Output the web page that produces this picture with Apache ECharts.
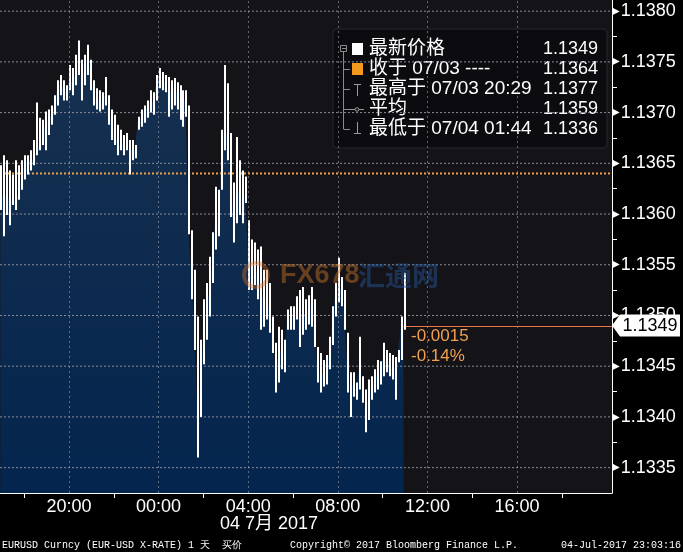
<!DOCTYPE html>
<html>
<head>
<meta charset="utf-8">
<script src="https://cdn.jsdelivr.net/npm/echarts@6/dist/echarts.min.js"></script>
<style>html,body{margin:0;padding:0;background:#000;}#c{width:683px;height:552px;}</style>
</head>
<body>
<div id="c"></div>
<script>
// ---- data (EURUSD, 8-minute bars starting 07/03 16:56) ----
const barStartHour = 16 + 56 / 60;
const barStepMinutes = 8;
const highs = [1.13648,1.13658,1.13653,1.13643,1.13639,1.13653,1.13648,1.13653,1.13658,1.13658,
1.13663,1.13673,1.13710,1.13695,1.13693,1.13701,1.13703,1.13707,1.13717,1.13732,
1.13737,1.13732,1.13727,1.13747,1.13744,1.13757,1.13771,1.13752,1.13757,1.13767,
1.13752,1.13732,1.13724,1.13722,1.13720,1.13735,1.13717,1.13703,1.13698,1.13688,
1.13683,1.13678,1.13680,1.13673,1.13673,1.13668,1.13696,1.13703,1.13707,1.13712,
1.13722,1.13720,1.13737,1.13744,1.13740,1.13737,1.13735,1.13732,1.13734,1.13730,
1.13727,1.13722,1.13722,1.13707,1.13584,1.13545,1.13499,1.13476,1.13516,1.13532,
1.13558,1.13582,1.13627,1.13624,1.13683,1.13747,1.13729,1.13680,1.13631,1.13676,
1.13653,1.13643,1.13637,1.13594,1.13575,1.13572,1.13565,1.13568,1.13545,1.13545,
1.13532,1.13499,1.13473,1.13489,1.13486,1.13476,1.13506,1.13509,1.13509,1.13519,
1.13525,1.13528,1.13516,1.13520,1.13528,1.13516,1.13469,1.13463,1.13456,1.13461,
1.13479,1.13509,1.13532,1.13557,1.13538,1.13525,1.13483,1.13444,1.13444,1.13434,
1.13479,1.13440,1.13427,1.13437,1.13440,1.13447,1.13456,1.13455,1.13473,1.13466,
1.13463,1.13461,1.13459,1.13466,1.13499,1.13542];
const lows = [1.13604,1.13578,1.13599,1.13589,1.13609,1.13604,1.13614,1.13624,1.13634,1.13639,
1.13643,1.13648,1.13658,1.13663,1.13668,1.13663,1.13678,1.13688,1.13698,1.13707,
1.13717,1.13712,1.13712,1.13722,1.13717,1.13727,1.13737,1.13712,1.13727,1.13737,
1.13722,1.13707,1.13703,1.13701,1.13703,1.13707,1.13688,1.13673,1.13668,1.13658,
1.13663,1.13658,1.13663,1.13639,1.13653,1.13655,1.13683,1.13686,1.13690,1.13695,
1.13700,1.13698,1.13712,1.13724,1.13722,1.13720,1.13696,1.13703,1.13707,1.13703,
1.13693,1.13686,1.13696,1.13580,1.13516,1.13466,1.13360,1.13400,1.13452,1.13476,
1.13499,1.13532,1.13565,1.13578,1.13624,1.13663,1.13653,1.13597,1.13572,1.13591,
1.13599,1.13591,1.13611,1.13525,1.13525,1.13530,1.13516,1.13486,1.13489,1.13496,
1.13483,1.13463,1.13424,1.13434,1.13447,1.13444,1.13486,1.13486,1.13486,1.13496,
1.13469,1.13481,1.13486,1.13491,1.13489,1.13469,1.13434,1.13424,1.13430,1.13432,
1.13447,1.13471,1.13499,1.13513,1.13509,1.13486,1.13424,1.13400,1.13420,1.13417,
1.13427,1.13414,1.13385,1.13397,1.13417,1.13424,1.13427,1.13432,1.13440,1.13444,
1.13440,1.13437,1.13417,1.13454,1.13456,1.13486];
const closes = [1.13624,1.13614,1.13619,1.13614,1.13614,1.13614,1.13619,1.13639,1.13648,1.13653,
1.13653,1.13653,1.13663,1.13668,1.13673,1.13688,1.13693,1.13698,1.13707,1.13722,
1.13730,1.13724,1.13722,1.13732,1.13730,1.13737,1.13752,1.13732,1.13742,1.13752,
1.13742,1.13722,1.13712,1.13712,1.13709,1.13717,1.13703,1.13693,1.13683,1.13673,
1.13668,1.13668,1.13665,1.13663,1.13663,1.13663,1.13691,1.13695,1.13701,1.13705,
1.13712,1.13710,1.13727,1.13734,1.13732,1.13730,1.13722,1.13720,1.13724,1.13720,
1.13712,1.13712,1.13712,1.13584,1.13535,1.13486,1.13397,1.13437,1.13476,1.13506,
1.13525,1.13555,1.13594,1.13599,1.13653,1.13693,1.13673,1.13634,1.13599,1.13624,
1.13619,1.13614,1.13619,1.13555,1.13550,1.13550,1.13540,1.13525,1.13516,1.13516,
1.13506,1.13481,1.13447,1.13461,1.13466,1.13461,1.13496,1.13496,1.13498,1.13506,
1.13496,1.13501,1.13501,1.13506,1.13511,1.13496,1.13452,1.13442,1.13442,1.13447,
1.13461,1.13491,1.13516,1.13530,1.13525,1.13506,1.13456,1.13422,1.13432,1.13427,
1.13447,1.13427,1.13407,1.13417,1.13427,1.13432,1.13442,1.13442,1.13456,1.13456,
1.13452,1.13449,1.13447,1.13461,1.13486,1.13490];
const prevClose = 1.1364;
const lastPrice = 1.1349;
const changeTexts = ['-0.0015', '-0.14%'];
const xLabelHours = [20, 24, 28, 32, 36, 40];
const xTickHours = [18, 22, 26, 30, 34, 38, 42];
const yLabelValues = [1.1335, 1.1340, 1.1345, 1.1350, 1.1355, 1.1360, 1.1365, 1.1370, 1.1375, 1.1380];
const yMinorTicks = [1.13375, 1.13425, 1.13475, 1.13525, 1.13575, 1.13625, 1.13675, 1.13725, 1.13775];
const legendLabels = ['最新价格', '收于 07/03 ----', '最高于 07/03 20:29', '平均', '最低于 07/04 01:44'];
const legendValues = ['1.1349', '1.1364', '1.1377', '1.1359', '1.1336'];
const dateLabel = '04 7月 2017';
const footerLeft = 'EURUSD Curncy (EUR-USD X-RATE) 1 天  买价';
const footerMid = 'Copyright© 2017 Bloomberg Finance L.P.';
const footerRight = '04-Jul-2017 23:03:16';

// ---- build ----
const times = highs.map((_, i) => barStartHour + i * barStepMinutes / 60);
const areaData = closes.map((c, i) => [times[i], c]);
const barData = highs.map((h, i) => [times[i], lows[i], h]);
const lastT = times[times.length - 1];
const X_MIN = 16.92, X_MAX = 44.24, Y_MIN = 1.13325, Y_MAX = 1.13811;
const FONT = '"Liberation Sans", Arial, "Noto Sans CJK SC", sans-serif';

const chart = echarts.init(document.getElementById('c'), null, { renderer: 'canvas' });

const legendEls = [];
legendEls.push({ type: 'rect', shape: { x: 333, y: 29, width: 274, height: 119, r: 4 },
  style: { fill: '#0c0c10', stroke: '#26262c', lineWidth: 1 } });
const rowY = [49, 69, 89, 109, 129];
const treeC = '#8a8a8a';
legendEls.push({ type: 'line', shape: { x1: 343.5, y1: 52, x2: 343.5, y2: 129 }, style: { stroke: treeC, lineWidth: 1 } });
legendEls.push({ type: 'rect', shape: { x: 340.5, y: 45.5, width: 6, height: 6 }, style: { fill: 'none', stroke: treeC, lineWidth: 1 } });
legendEls.push({ type: 'line', shape: { x1: 342, y1: 48.5, x2: 346, y2: 48.5 }, style: { stroke: treeC, lineWidth: 1 } });
for (let r = 1; r < 5; r++) {
  legendEls.push({ type: 'line', shape: { x1: 343.5, y1: rowY[r] + 0.5, x2: 350, y2: rowY[r] + 0.5 }, style: { stroke: treeC, lineWidth: 1 } });
}
legendEls.push({ type: 'rect', shape: { x: 352, y: 43, width: 11, height: 12 }, style: { fill: '#ffffff' } });
legendEls.push({ type: 'rect', shape: { x: 352, y: 63, width: 11, height: 12 }, style: { fill: '#f39a1e' } });
legendEls.push({ type: 'line', shape: { x1: 357.5, y1: 84, x2: 357.5, y2: 96 }, style: { stroke: '#9a9a9a', lineWidth: 1 } });
legendEls.push({ type: 'line', shape: { x1: 354, y1: 84.5, x2: 361, y2: 84.5 }, style: { stroke: '#9a9a9a', lineWidth: 1 } });
legendEls.push({ type: 'line', shape: { x1: 350, y1: 109.5, x2: 364, y2: 109.5 }, style: { stroke: '#9a9a9a', lineWidth: 1 } });
legendEls.push({ type: 'circle', shape: { cx: 357, cy: 109.5, r: 1.8 }, style: { fill: '#0c0c10', stroke: '#9a9a9a', lineWidth: 1 } });
legendEls.push({ type: 'line', shape: { x1: 357.5, y1: 122, x2: 357.5, y2: 134 }, style: { stroke: '#9a9a9a', lineWidth: 1 } });
legendEls.push({ type: 'line', shape: { x1: 354, y1: 133.5, x2: 361, y2: 133.5 }, style: { stroke: '#9a9a9a', lineWidth: 1 } });
legendLabels.forEach((t, i) => {
  legendEls.push({ type: 'text', x: 369, y: rowY[i], style: { text: t, fill: '#fff', font: '19px ' + FONT, textVerticalAlign: 'middle', textAlign: 'left' } });
  legendEls.push({ type: 'text', x: 598, y: rowY[i], style: { text: legendValues[i], fill: '#fff', font: '18px ' + FONT, textVerticalAlign: 'middle', textAlign: 'right' } });
});

// horizontal grid lines as two-point line series (same mechanism as the previous-close line)
const hGridSeries = yLabelValues.map(v => ({
  type: 'line', z: 3, silent: true, showSymbol: false, symbol: 'none',
  data: [[X_MIN, v], [X_MAX, v]],
  lineStyle: { color: '#8a8c96', type: [2, 2], width: 1 }
}));

const option = {
  backgroundColor: '#000',
  animation: false,
  grid: { left: 0, right: 71, top: 0, bottom: 59, show: true, backgroundColor: '#141318', borderWidth: 0 },
  xAxis: {
    type: 'value', min: X_MIN, max: X_MAX,
    axisLine: { show: true, lineStyle: { color: '#fff', width: 1 } },
    axisTick: { show: true, customValues: xTickHours, length: 5, lineStyle: { color: '#fff' } },
    axisLabel: { customValues: xLabelHours, color: '#fff', fontSize: 18, fontFamily: FONT, margin: 5,
      formatter: v => String(Math.round(v) % 24).padStart(2, '0') + ':00' },
    splitLine: { show: false }
  },
  yAxis: {
    type: 'value', position: 'right', min: Y_MIN, max: Y_MAX,
    axisLine: { show: true, lineStyle: { color: '#fff', width: 1 } },
    axisTick: { show: true, customValues: yMinorTicks, length: 5, inside: false, lineStyle: { color: '#fff' } },
    axisLabel: { customValues: yLabelValues, margin: 0, color: '#fff',
      formatter: v => '{t|▶}{v|' + v.toFixed(4) + '}',
      rich: { t: { fontSize: 10, color: '#fff', padding: [0, 1, 0, 0], fontFamily: 'DejaVu Sans' },
              v: { fontSize: 18, color: '#fff', fontFamily: FONT } } },
    splitLine: { show: false }
  },
  graphic: [
    { type: 'group', z: 100, children: legendEls },
    { type: 'text', z: 100, x: 269, y: 524, style: { text: dateLabel, fill: '#fff', font: '18px ' + FONT, textAlign: 'center', textVerticalAlign: 'middle' } },
    { type: 'text', z: 100, x: 2, y: 545, style: { text: footerLeft, fill: '#fff', font: '10px "Liberation Mono", monospace', textVerticalAlign: 'middle' } },
    { type: 'text', z: 100, x: 290, y: 545, style: { text: footerMid, fill: '#fff', font: '10px "Liberation Mono", monospace', textVerticalAlign: 'middle' } },
    { type: 'text', z: 100, x: 681, y: 545, style: { text: footerRight, fill: '#fff', font: '10px "Liberation Mono", monospace', textAlign: 'right', textVerticalAlign: 'middle' } },
    { type: 'circle', z: 50, shape: { cx: 256, cy: 275, r: 12 }, style: { fill: 'none', stroke: 'rgba(210,110,40,0.4)', lineWidth: 4 } },
    { type: 'text', z: 50, x: 280, y: 276, style: { text: 'FX678', fill: 'rgba(205,120,40,0.45)', font: 'bold 27px "Liberation Sans", Arial', textVerticalAlign: 'middle' } },
    { type: 'text', z: 50, x: 358, y: 276, style: { text: '汇通网', fill: 'rgba(40,90,160,0.45)', font: 'bold 27px "Noto Sans CJK SC"', textVerticalAlign: 'middle' } }
  ],
  series: [
    {
      type: 'line', data: areaData, showSymbol: false, symbol: 'none', z: 2,
      lineStyle: { width: 0, opacity: 0 },
      areaStyle: { opacity: 1, color: new echarts.graphic.LinearGradient(0, 0, 0, 1, [
        { offset: 0, color: '#16304f' }, { offset: 1, color: '#04254e' }]) },
      markLine: {
        silent: true, symbol: ['none', 'none'], animation: false,
        label: { show: false },
        lineStyle: { color: 'rgba(170,170,180,0.55)', type: [2, 3], width: 1 },
        data: xLabelHours.map(h => ({ xAxis: h }))
      }
    },
    ...hGridSeries,
    {
      type: 'line', z: 3, showSymbol: false, symbol: 'none', silent: true,
      data: [[X_MIN, prevClose], [X_MAX, prevClose]],
      lineStyle: { color: '#f2a048', type: [2, 2], width: 2 }
    },
    {
      // last price line from the last bar to the axis
      type: 'custom', z: 3, silent: true, clip: false,
      data: [[lastT, lastPrice]],
      renderItem: (params, api) => {
        const cs = params.coordSys;
        const p = api.coord([api.value(0), api.value(1)]);
        const y = Math.round(p[1]) + 0.5;
        return { type: 'line', shape: { x1: p[0], y1: y, x2: cs.x + cs.width, y2: y },
          style: { stroke: '#e8764a', lineWidth: 1 } };
      }
    },
    {
      type: 'custom', data: barData, z: 4, clip: false,
      renderItem: (params, api) => {
        const t = api.value(0);
        const lo = api.coord([t, api.value(1)]);
        const hi = api.coord([t, api.value(2)]);
        const x = Math.round(lo[0]) + 1;
        return { type: 'line', shape: { x1: x, y1: lo[1], x2: x, y2: hi[1] }, style: { stroke: '#ffffff', lineWidth: 2 } };
      }
    },
    {
      type: 'line', data: [], z: 5,
      markPoint: {
        silent: true, animation: false,
        data: [
          { coord: [X_MAX, lastPrice], symbol: 'path://M0,11 L8,0 L68,0 L68,22 L8,22 Z', symbolSize: [68, 22], symbolOffset: [34, 0], symbolKeepAspect: false,
            itemStyle: { color: '#ffffff' },
            label: { show: true, position: 'inside', offset: [4, 0], formatter: lastPrice.toFixed(4), color: '#000', fontSize: 18, fontFamily: FONT } },
          { coord: [lastT, lastPrice], symbol: 'circle', symbolSize: 1, itemStyle: { color: 'rgba(0,0,0,0)' },
            label: { show: true, position: [8, 1], formatter: changeTexts.join('\n'), color: '#f0a050', fontSize: 17, lineHeight: 20, fontFamily: FONT, align: 'left', verticalAlign: 'top' } }
        ]
      }
    }
  ]
};
chart.setOption(option);
</script>
</body>
</html>
